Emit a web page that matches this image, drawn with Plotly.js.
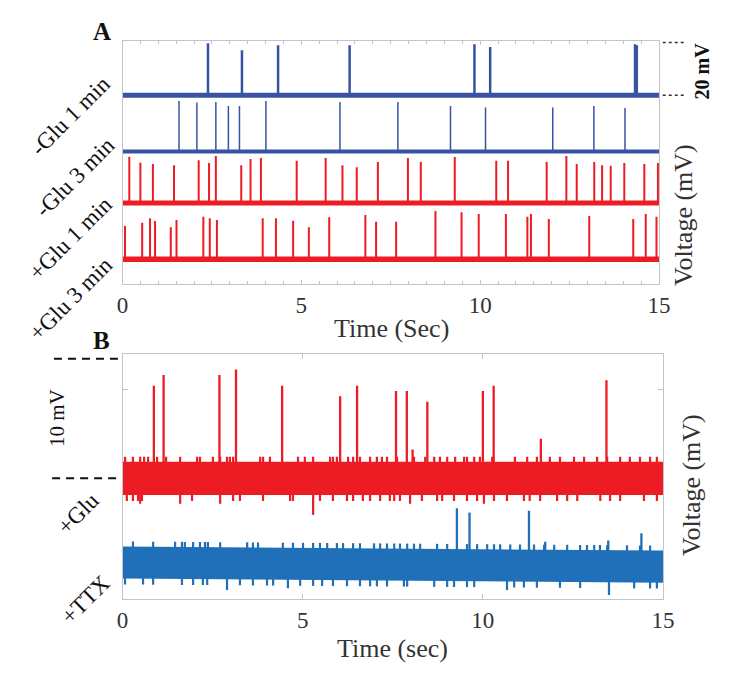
<!DOCTYPE html>
<html>
<head>
<meta charset="utf-8">
<script src="https://cdn.plot.ly/plotly-3.0.1.min.js"></script>
<style>html,body{margin:0;padding:0;background:#fff;}#chart{width:734px;height:677px;}</style>
</head>
<body>
<div id="chart"></div>
<script>
// ---------- Panel A data (time in s, spike amplitude in mV above baseline) ----------
const tickVals = [0, 5, 10, 15];
const tickText = ['0', '5', '10', '15'];
const traceNamesA = ['-Glu 1 min', '-Glu 3 min', '+Glu 1 min', '+Glu 3 min'];
const baselinesA = [71.8, 50.4, 30.8, 9.4];

const gm1T = [2.39, 3.34, 4.35, 6.35, 9.84, 10.28, 14.33, 14.38];
const gm1A = [19.8, 17.1, 19.0, 19.0, 19.4, 18.3, 19.4, 19.0];

const gm3T = [1.58, 2.08, 2.61, 2.96, 3.27, 4.01, 6.08, 7.70, 9.17, 10.15, 12.03, 13.18, 14.05];
const gm3A = [19.2, 18.6, 18.8, 17.3, 17.3, 19.2, 18.8, 18.8, 17.3, 16.7, 16.7, 17.3, 16.5];

const gp1T = [0.19, 0.50, 0.85, 1.44, 2.13, 2.42, 2.61, 3.32, 3.58, 3.87, 4.87, 5.68, 6.15, 6.55, 7.14, 7.98, 8.34, 9.29, 10.45, 10.78, 11.86, 12.41, 12.70, 13.19, 13.41, 13.65, 14.03, 14.59, 14.97];
const gp1A = [17.6, 15.3, 14.8, 14.4, 16.3, 15.2, 17.9, 14.4, 16.7, 17.1, 16.1, 17.1, 14.4, 13.6, 15.6, 17.1, 15.6, 17.5, 16.1, 16.1, 15.6, 17.9, 14.8, 15.6, 14.4, 14.2, 15.2, 14.8, 15.2];

const gp3T = [0.07, 0.55, 0.77, 0.91, 1.35, 1.51, 2.26, 2.44, 2.64, 3.92, 4.29, 4.77, 5.21, 5.78, 6.79, 7.09, 7.65, 8.75, 9.48, 9.96, 10.72, 11.32, 11.42, 11.92, 13.05, 14.28, 14.63, 14.93];
const gp3A = [12.7, 13.9, 15.6, 14.6, 12.2, 14.9, 16.2, 15.6, 14.9, 15.6, 15.6, 14.7, 12.2, 16.0, 16.8, 14.3, 14.3, 18.4, 17.9, 17.2, 17.2, 16.2, 17.2, 15.3, 16.5, 15.3, 17.2, 16.2];

const scaleA = 20; // mV

// ---------- Panel B data ----------
const traceNamesB = ['+Glu', '+TTX'];
const redMid = 10.1, redHalf = 1.39;
const redSpikeT = [0.87, 1.14, 2.69, 3.15, 4.43, 6.04, 6.51, 7.59, 7.89, 8.05, 8.46, 10.00, 10.30, 11.61, 13.43];
const redSpikeV = [17.85, 18.75, 18.75, 19.2, 17.85, 16.96, 17.85, 17.4, 17.4, 12.5, 16.5, 17.4, 17.85, 13.4, 18.3];
const redUpT = [0.07,0.29,0.49,0.60,0.71,0.96,1.21,1.60,2.07,2.15,2.51,2.71,2.90,2.98,3.07,3.82,3.90,4.09,4.87,5.06,5.29,5.76,5.84,5.95,6.26,6.40,6.59,6.87,7.06,7.20,7.34,7.62,8.09,8.40,8.65,8.81,9.01,9.23,9.48,9.56,9.76,9.92,10.26,10.89,11.23,11.50,11.86,12.14,12.53,12.81,13.17,13.45,13.81,14.08,14.36,14.64,14.83];
const redDownT = [0.12,0.29,0.43,0.54,1.93,3.07,3.26,3.90,4.65,4.73,5.48,5.84,6.23,6.40,6.67,6.87,7.15,7.42,7.54,7.70,8.31,8.73,8.87,9.20,9.56,9.84,10.31,10.67,11.14,11.30,11.59,12.06,12.34,12.62,13.26,13.53,13.81,14.47,14.83];
const redDeepT = [0.49, 1.60, 2.71, 5.29, 7.98, 10.03];
const redDeepV = [7.96, 7.96, 7.96, 7.04, 7.96, 7.96];

const blueBandT = [0, 15];
const blueBandMid = [3.06, 2.71];
const blueHalf = 1.34;
const blueSpikeT = [9.28, 9.63, 11.28, 11.73, 13.48, 14.40];
const blueSpikeV = [7.6, 7.23, 7.38, 4.8, 4.9, 5.5];
const blueUpT = [0.29,0.85,1.46,1.65,1.73,1.96,2.15,2.29,2.37,2.71,3.46,3.62,3.76,4.45,4.73,5.01,5.29,5.48,5.68,5.95,6.12,6.40,6.59,6.98,7.15,7.34,7.54,7.70,7.90,8.09,8.26,8.73,9.01,9.56,9.84,10.12,10.31,10.48,10.76,11.03,11.42,11.70,11.98,12.34,12.70,12.89,13.09,13.25,13.45,14.00,14.36,14.64];
const blueDownT = [0.07,0.57,0.85,1.65,1.96,2.23,2.35,3.26,3.62,4.01,4.18,4.93,5.29,5.54,5.84,6.23,6.59,6.87,7.06,7.34,7.81,7.90,8.65,9.01,9.20,9.56,9.76,10.87,11.14,11.50,12.14,12.70,14.20,14.64,14.83];
const blueDeepT = [2.90, 4.59, 10.67, 13.50];
const blueDeepV = [0.75, 0.9, 0.75, 0.34];

const scaleB = 10; // mV
const yTickB = [17.5];

// ---------- helpers ----------
const BLUE_A = '#3953a4', RED = '#ed1c24', BLUE_B = '#1f70b8';
const FONT = 'Liberation Serif, Times New Roman, serif';

function segs(ts, y0s, y1s) {
  const x = [], y = [];
  ts.forEach((t, i) => { x.push(t, t, null); y.push(y0s(i, t), y1s(i, t), null); });
  return {x, y};
}
function spikeTrace(ts, amps, base, color, width, xa, ya) {
  const s = segs(ts, () => base, (i) => base + amps[i]);
  return {type: 'scatter', mode: 'lines', x: s.x, y: s.y, xaxis: xa, yaxis: ya,
    line: {color, width}, hoverinfo: 'skip', showlegend: false, connectgaps: false};
}
function baseTrace(base, color, width) {
  return {type: 'scatter', mode: 'lines', x: [0, 15], y: [base, base], xaxis: 'x', yaxis: 'y',
    line: {color, width}, hoverinfo: 'skip', showlegend: false};
}
function segTrace(s, color, width) {
  return {type: 'scatter', mode: 'lines', x: s.x, y: s.y, xaxis: 'x2', yaxis: 'y2',
    line: {color, width}, hoverinfo: 'skip', showlegend: false, connectgaps: false};
}
const blueMidAt = t => blueBandMid[0] + (blueBandMid[1] - blueBandMid[0]) * (t - blueBandT[0]) / (blueBandT[1] - blueBandT[0]);

const traces = [];
// Panel A
traces.push(baseTrace(baselinesA[0], BLUE_A, 5));
traces.push(spikeTrace(gm1T, gm1A, baselinesA[0], BLUE_A, 2.5, 'x', 'y'));
traces.push(baseTrace(baselinesA[1], BLUE_A, 4));
traces.push(spikeTrace(gm3T, gm3A, baselinesA[1], BLUE_A, 1.5, 'x', 'y'));
traces.push(baseTrace(baselinesA[2], RED, 5));
traces.push(spikeTrace(gp1T, gp1A, baselinesA[2], RED, 2, 'x', 'y'));
traces.push(baseTrace(baselinesA[3], RED, 5.5));
traces.push(spikeTrace(gp3T, gp3A, baselinesA[3], RED, 2, 'x', 'y'));

// Panel B red band
traces.push({type: 'scatter', mode: 'lines', x: [0, 15, 15, 0, 0],
  y: [redMid + redHalf, redMid + redHalf, redMid - redHalf, redMid - redHalf, redMid + redHalf],
  fill: 'toself', fillcolor: RED, line: {width: 0, color: RED}, xaxis: 'x2', yaxis: 'y2', hoverinfo: 'skip', showlegend: false});
traces.push(segTrace(segs(redUpT, () => redMid, () => redMid + redHalf + 0.42), RED, 2.2));
traces.push(segTrace(segs(redDownT, () => redMid, () => redMid - redHalf - 0.5), RED, 2.2));
traces.push(segTrace(segs(redDeepT, () => redMid, (i) => redDeepV[i]), RED, 2.2));
traces.push(segTrace(segs(redSpikeT, () => redMid, (i) => redSpikeV[i]), RED, 2.3));

// Panel B blue band
traces.push({type: 'scatter', mode: 'lines', x: [blueBandT[0], blueBandT[1], blueBandT[1], blueBandT[0], blueBandT[0]],
  y: [blueBandMid[0] + blueHalf, blueBandMid[1] + blueHalf, blueBandMid[1] - blueHalf, blueBandMid[0] - blueHalf, blueBandMid[0] + blueHalf],
  fill: 'toself', fillcolor: BLUE_B, line: {width: 0, color: BLUE_B}, xaxis: 'x2', yaxis: 'y2', hoverinfo: 'skip', showlegend: false});
traces.push(segTrace(segs(blueUpT, (i, t) => blueMidAt(t), (i, t) => blueMidAt(t) + blueHalf + 0.42), BLUE_B, 2.2));
traces.push(segTrace(segs(blueDownT, (i, t) => blueMidAt(t), (i, t) => blueMidAt(t) - blueHalf - 0.5), BLUE_B, 2.2));
traces.push(segTrace(segs(blueDeepT, (i, t) => blueMidAt(t), (i) => blueDeepV[i]), BLUE_B, 2.2));
traces.push(segTrace(segs(blueSpikeT, (i, t) => blueMidAt(t), (i) => blueSpikeV[i]), BLUE_B, 2.3));

const AX = '#c4c4c4';
const tickFont = {family: FONT, size: 23, color: '#333'};

function ann(text, x, y, size, angle, opts) {
  return Object.assign({text, x, y, xref: 'paper', yref: 'paper', showarrow: false,
    xanchor: 'center', yanchor: 'middle', textangle: angle,
    font: {family: FONT, size, color: '#111'}}, opts || {});
}

const annotations = [
  ann('<b>A</b>', 0.1390, 0.9535, 25, 0),
  ann('<b>B</b>', 0.1383, 0.4970, 25, 0),
  ann(traceNamesA[0], 0.0967, 0.8287, 23, -45),
  ann(traceNamesA[1], 0.1022, 0.7371, 23, -45),
  ann(traceNamesA[2], 0.0954, 0.6484, 23, -45),
  ann(traceNamesA[3], 0.0967, 0.5598, 23, -45),
  ann(traceNamesB[0], 0.1063, 0.2422, 23, -45),
  ann(traceNamesB[1], 0.1172, 0.1138, 23, -45),
  ann('<b>' + scaleA + ' mV</b>', 0.9571, 0.8951, 20, -90),
  ann(scaleB + ' mV', 0.0777, 0.3826, 21, -90),
  ann('Voltage (mV)', 0.9305, 0.6824, 26, -90, {font: {family: FONT, size: 26, color: '#333'}}),
  ann('Voltage (mV)', 0.9414, 0.2836, 26, -90, {font: {family: FONT, size: 26, color: '#333'}}),
  ann('Time (Sec)', 0.5327, 0.5155, 26, 0, {font: {family: FONT, size: 26, color: '#333'}}),
  ann('Time (sec)', 0.5341, 0.0414, 26, 0, {font: {family: FONT, size: 26, color: '#333'}})
];

const shapes = [
  {type: 'line', xref: 'paper', yref: 'y', x0: 0.9029, x1: 0.9332, y0: baselinesA[0] + scaleA, y1: baselinesA[0] + scaleA, line: {color: '#333', width: 1.5, dash: 'dot'}},
  {type: 'line', xref: 'paper', yref: 'y', x0: 0.9029, x1: 0.9332, y0: baselinesA[0], y1: baselinesA[0], line: {color: '#333', width: 1.5, dash: 'dot'}},
  {type: 'line', xref: 'paper', yref: 'y2', x0: 0.0735, x1: 0.1621, y0: redMid + scaleB, y1: redMid + scaleB, line: {color: '#111', width: 2, dash: '8px,6px'}},
  {type: 'line', xref: 'paper', yref: 'y2', x0: 0.0710, x1: 0.1600, y0: redMid, y1: redMid, line: {color: '#111', width: 2, dash: '8px,6px'}}
];

const layout = {
  width: 734, height: 677,
  margin: {l: 0, r: 0, t: 0, b: 0, pad: 0},
  paper_bgcolor: '#fff', plot_bgcolor: '#fff',
  showlegend: false,
  xaxis: {domain: [0.1669, 0.8978], range: [0, 15], anchor: 'y', showline: true, linecolor: AX, linewidth: 1, mirror: 'ticks',
    ticks: 'inside', ticklen: 4, tickcolor: AX, tickmode: 'array', tickvals: tickVals, ticktext: tickText, tickfont: tickFont,
    minor: {dtick: 0.5, ticks: 'inside', ticklen: 3, tickcolor: AX}, showgrid: false, zeroline: false, automargin: false},
  yaxis: {domain: [0.5805, 0.9394], range: [0, 92.4], anchor: 'x', showline: true, linecolor: AX, linewidth: 1, mirror: true,
    ticks: '', showticklabels: false, showgrid: false, zeroline: false, automargin: false},
  xaxis2: {domain: [0.1669, 0.9033], range: [0, 15], anchor: 'y2', showline: true, linecolor: AX, linewidth: 1, mirror: 'ticks',
    ticks: 'inside', ticklen: 5, tickcolor: AX, tickmode: 'array', tickvals: tickVals, ticktext: tickText, tickfont: tickFont,
    showgrid: false, zeroline: false, automargin: false},
  yaxis2: {domain: [0.1152, 0.4771], range: [0, 20.5], anchor: 'x2', showline: true, linecolor: AX, linewidth: 1, mirror: 'ticks',
    ticks: 'inside', ticklen: 5, tickcolor: AX, tickmode: 'array', tickvals: yTickB, showticklabels: false,
    showgrid: false, zeroline: false, automargin: false},
  annotations, shapes
};

Plotly.newPlot('chart', traces, layout, {staticPlot: true, displayModeBar: false});
</script>
</body>
</html>
